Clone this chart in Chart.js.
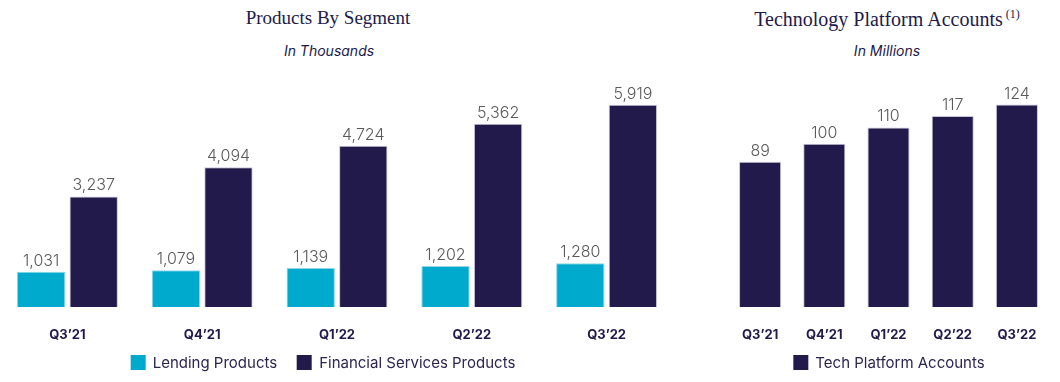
<!DOCTYPE html>
<html>
<head>
<meta charset="utf-8">
<script src="https://cdn.jsdelivr.net/npm/chart.js@4"></script>
<style>
body { margin: 0; width: 1060px; height: 382px; background: #fff; position: relative; overflow: hidden; font-family: Inter, sans-serif; }
.title { position: absolute; top: 7px; transform: translateX(-50%); white-space: nowrap; font-family: "Liberation Serif", serif; font-size: 19px; color: #221a4a; }
.title sup { font-size: 12px; margin-left: 3px; }
.sub { position: absolute; top: 42px; transform: translateX(-50%); white-space: nowrap; font-style: italic; font-size: 14px; color: #221a4a; }
.legend { position: absolute; top: 353px; transform: translateX(-50%); display: flex; gap: 20px; white-space: nowrap; font-size: 15px; color: #2b2550; }
.legend .box { display: inline-block; width: 15px; height: 15px; margin-right: 7px; vertical-align: -2px; }
.wrap { position: absolute; top: 0; height: 382px; }
</style>
</head>
<body>
<div class="title" style="left:328px">Products By Segment</div>
<div class="sub" style="left:329px">In Thousands</div>
<div class="title" style="left:887px;font-size:20px">Technology Platform Accounts<sup>(1)</sup></div>
<div class="sub" style="left:887px">In Millions</div>

<div class="wrap" style="left:0;width:674px"><canvas id="segChart"></canvas></div>
<div class="wrap" style="left:728px;width:321px"><canvas id="techChart"></canvas></div>
<div class="legend" id="segLegend" style="left:323px"></div>
<div class="legend" id="techLegend" style="left:889px"></div>

<script>
var quarters = ["Q3’21", "Q4’21", "Q1’22", "Q2’22", "Q3’22"];
var lendingProducts = [1031, 1079, 1139, 1202, 1280];
var financialServicesProducts = [3237, 4094, 4724, 5362, 5919];
var techPlatformAccounts = [89, 100, 110, 117, 124];

var cyan = '#00aacd';
var navy = '#221a4a';

// numbers on top of each bar
const valueLabels = {
    id: 'valueLabels',
    afterDatasetsDraw(chart) {
        const ctx = chart.ctx;
        ctx.save();
        ctx.font = '300 16px Inter';
        ctx.fillStyle = '#5a5a5a';
        ctx.textAlign = 'center';
        ctx.textBaseline = 'alphabetic';
        chart.data.datasets.forEach((ds, i) => {
            chart.getDatasetMeta(i).data.forEach((bar, j) => {
                ctx.fillText(ds.data[j].toLocaleString('en-US'), bar.x, bar.y - 6);
            });
        });
        ctx.restore();
    }
};

function baseOptions(yMax) {
    return {
        responsive: true,
        maintainAspectRatio: false,
        animation: false,
        layout: { padding: { top: 85, bottom: 0, left: 0, right: 0 } },
        plugins: { legend: { display: false }, tooltip: { enabled: false } },
        scales: {
            x: {
                grid: { display: false },
                border: { display: false },
                ticks: { color: navy, padding: 12, font: { family: 'Inter', size: 13, weight: 'bold' } },
                afterFit: function(scale) {
                    // fixed axis band under the bars, no side padding
                    scale.height = 75;
                    scale.paddingLeft = 0;
                    scale.paddingRight = 0;
                }
            },
            y: { display: false, min: 0, max: yMax }
        }
    };
}

const segChart = new Chart(document.getElementById('segChart'), {
    type: 'bar',
    data: {
        labels: quarters,
        datasets: [
            {
                label: 'Lending Products',
                data: lendingProducts,
                backgroundColor: cyan,
                borderColor: '#8fd6e8',
                borderWidth: 1,
                categoryPercentage: 0.78,
                barPercentage: 0.92
            },
            {
                label: 'Financial Services Products',
                data: financialServicesProducts,
                backgroundColor: navy,
                borderColor: '#c8c3da',
                borderWidth: 1,
                categoryPercentage: 0.78,
                barPercentage: 0.92
            }
        ]
    },
    options: baseOptions(6500),
    plugins: [valueLabels]
});

const techChart = new Chart(document.getElementById('techChart'), {
    type: 'bar',
    data: {
        labels: quarters,
        datasets: [
            {
                label: 'Tech Platform Accounts',
                data: techPlatformAccounts,
                backgroundColor: navy,
                borderColor: '#c8c3da',
                borderWidth: 1,
                categoryPercentage: 0.8,
                barPercentage: 0.82
            }
        ]
    },
    options: baseOptions(136),
    plugins: [valueLabels]
});

// html legends built from the datasets
function buildLegend(chart, id) {
    var el = document.getElementById(id);
    chart.data.datasets.forEach(function(ds) {
        var item = document.createElement('span');
        item.innerHTML = '<span class="box" style="background:' + ds.backgroundColor + '"></span>' + ds.label;
        el.appendChild(item);
    });
}
buildLegend(segChart, 'segLegend');
buildLegend(techChart, 'techLegend');
</script>
</body>
</html>
